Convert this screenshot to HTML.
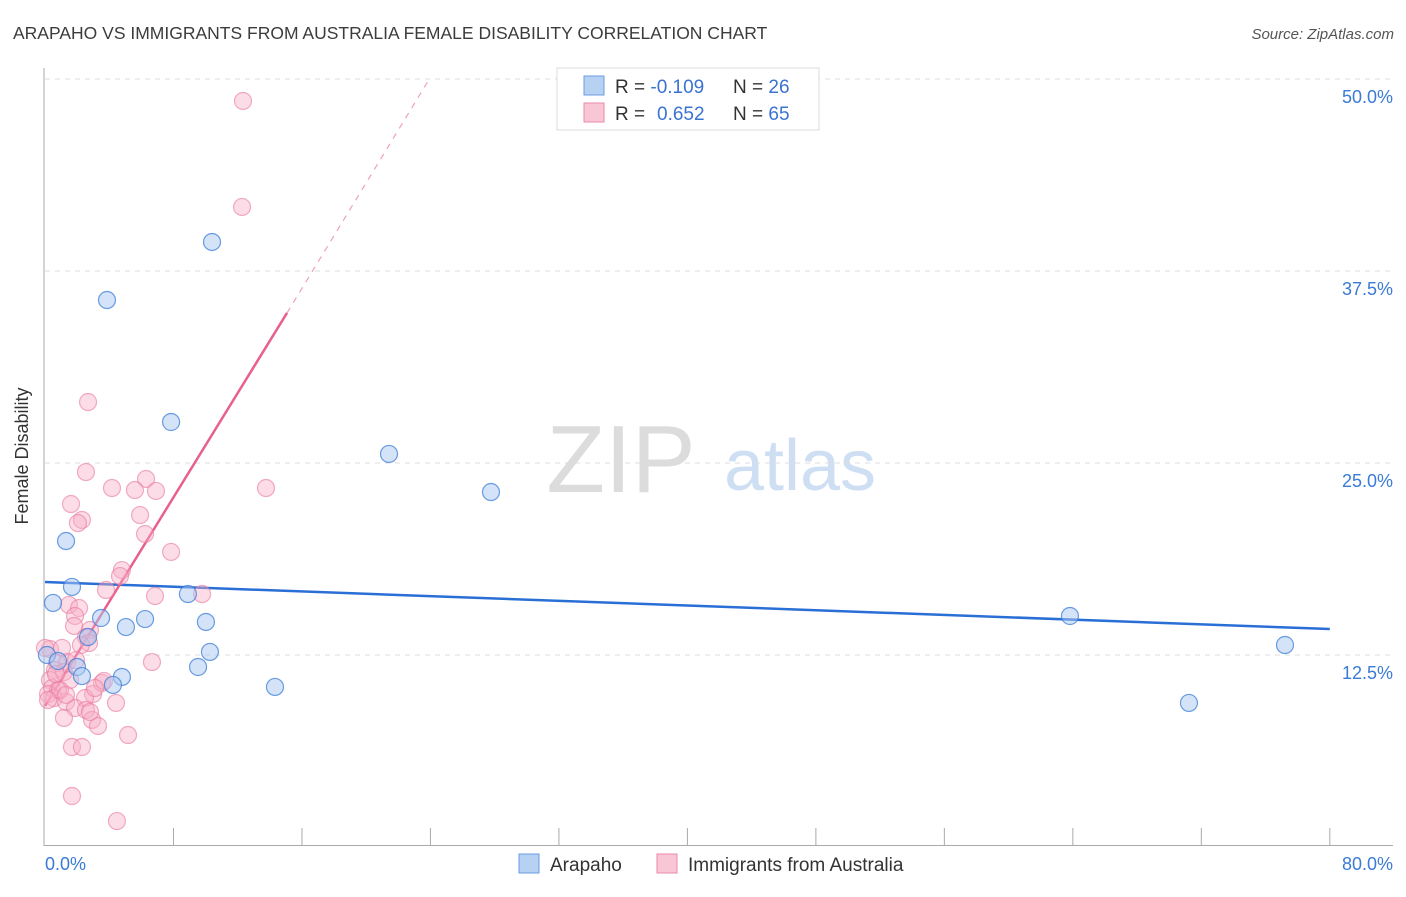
<!DOCTYPE html>
<html><head><meta charset="utf-8"><style>
body{margin:0;background:#fff;font-family:"Liberation Sans",sans-serif}
svg text{font-family:"Liberation Sans",sans-serif}
</style></head><body>
<svg id="chart" width="1406" height="892" xmlns="http://www.w3.org/2000/svg">
<text x="13" y="39" font-size="17.5" fill="#3c3c3c">ARAPAHO VS IMMIGRANTS FROM AUSTRALIA FEMALE DISABILITY CORRELATION CHART</text>
<text x="1394" y="39" font-size="15" fill="#555" font-style="italic" text-anchor="end">Source: ZipAtlas.com</text>
<text x="621" y="492" font-size="96" fill="#dcdcdc" font-family="Liberation Serif, serif" text-anchor="middle">ZIP</text>
<text x="800" y="490" font-size="72" fill="#cfdff3" text-anchor="middle">atlas</text>
<g id="grid"></g>
<g id="axes"></g>
<g id="trends"></g>
<g id="points"></g>
<text x="28" y="456" font-size="18" fill="#333" text-anchor="middle" transform="rotate(-90 28 456)">Female Disability</text>
<g>
<rect x="557" y="68" width="262" height="62" fill="#fff" stroke="#ddd"/>
<rect x="584" y="76" width="20" height="19" fill="#b7d1f3" stroke="#6b9be0"/>
<rect x="584" y="103" width="20" height="19" fill="#f9c6d5" stroke="#ea8aa8"/>
<text x="615" y="93" font-size="19" fill="#333">R = <tspan fill="#3a73d0">-0.109</tspan><tspan x="733">N = </tspan><tspan fill="#3a73d0">26</tspan></text>
<text x="615" y="120" font-size="19" fill="#333">R = <tspan x="657" fill="#3a73d0">0.652</tspan><tspan x="733">N = </tspan><tspan fill="#3a73d0">65</tspan></text>
</g>
<g>
<rect x="519" y="854" width="20" height="19" fill="#b7d1f3" stroke="#6b9be0"/>
<text x="550" y="871" font-size="19" fill="#333">Arapaho</text>
<rect x="657" y="854" width="20" height="19" fill="#f9c6d5" stroke="#ea8aa8"/>
<text x="688" y="871" font-size="19" fill="#333">Immigrants from Australia</text>
</g>
</svg>
<script>
const yTicks=[12.5,25,37.5,50];
const yTickLabels=["12.5%","25.0%","37.5%","50.0%"];
const xTickCount=10;
const blueX=[10.40,3.86,7.85,21.42,27.77,1.31,1.68,0.50,8.90,3.49,6.23,5.04,10.02,2.68,10.27,0.12,0.81,1.99,2.30,4.79,4.23,9.53,14.32,63.82,77.21,71.23];
const blueY=[39.39,35.61,27.67,25.59,23.11,19.92,16.93,15.89,16.47,14.91,14.84,14.32,14.65,13.67,12.70,12.50,12.11,11.72,11.13,11.07,10.55,11.72,10.42,15.04,13.15,9.38];
const pinkX=[12.33,12.27,2.68,2.55,6.29,4.17,5.60,6.91,13.76,1.62,5.92,2.30,2.05,6.23,7.85,4.79,4.67,3.80,6.85,9.78,1.49,2.12,1.87,1.81,2.80,2.55,2.74,2.24,6.66,0.31,1.06,0.75,1.37,0.62,1.18,1.56,0.31,0.44,0.81,0.19,0.56,1.31,2.99,2.49,3.55,3.67,4.42,1.87,2.55,1.18,2.93,3.30,5.17,1.68,2.30,1.68,4.48,0.00,0.93,0.19,0.68,2.80,1.31,1.93,3.11];
const pinkY=[48.57,41.67,28.97,24.41,23.96,23.37,23.24,23.18,23.37,22.33,21.61,21.29,21.09,20.38,19.21,18.03,17.64,16.73,16.34,16.47,15.76,15.56,15.04,14.39,14.13,13.67,13.28,13.15,12.04,12.89,12.96,11.98,12.04,11.52,11.39,10.87,10.87,10.35,10.22,9.96,9.70,9.44,9.96,9.70,10.68,10.81,9.38,9.05,8.92,8.40,8.27,7.88,7.29,6.51,6.51,3.32,1.69,12.96,10.22,9.57,11.26,8.79,9.90,12.17,10.35];
const blueTrend=[[0,17.25],[80,14.19]];
const pinkTrendSolid=[[0,9.18],[15.07,34.77]];
const pinkTrendDash=[[15.07,34.77],[23.97,50.07]];
const NS="http://www.w3.org/2000/svg";
const xs=v=>45+v*16.06, ys=v=>847-v*15.36;
function mk(tag,attrs,parent){const e=document.createElementNS(NS,tag);for(const k in attrs)e.setAttribute(k,attrs[k]);document.getElementById(parent).appendChild(e);return e;}
yTicks.forEach((t,i)=>{
 const l=mk('line',{x1:45,x2:1393,y1:ys(t),y2:ys(t),stroke:'#ddd','stroke-dasharray':'5,5'},'grid');
 
 
 const tx=mk('text',{x:1393,y:ys(t)+24,'font-size':18,fill:'#3a7bd5','text-anchor':'end'},'grid');
 tx.textContent=yTickLabels[i];
 
 
});
const ya=mk('line',{x1:44,x2:44,y1:68,y2:846,stroke:'#aaa'},'axes');


const xa=mk('line',{x1:44,x2:1393,y1:845.5,y2:845.5,stroke:'#aaa'},'axes');


for(let i=1;i<=xTickCount;i++){
 const t=mk('line',{x1:xs(i*8),x2:xs(i*8),y1:828,y2:845,stroke:'#aaa'},'axes');
 
 
}
const x0=mk('text',{x:45,y:870,'font-size':18,fill:'#3a7bd5'},'axes');x0.textContent='0.0%';


const x1=mk('text',{x:1393,y:870,'font-size':18,fill:'#3a7bd5','text-anchor':'end'},'axes');x1.textContent='80.0%';


function pts(X,Y,fill,stroke,name){X.forEach((x,i)=>{
 const c=mk('circle',{cx:xs(x),cy:ys(Y[i]),r:8.5,fill:fill,stroke:stroke,'stroke-width':1.2},'points');
 
 
});}
pts(pinkX,pinkY,'rgba(248,175,198,0.42)','rgba(232,120,156,0.6)','point-australia');
pts(blueX,blueY,'rgba(170,200,242,0.5)','rgba(60,125,215,0.75)','point-arapaho');
function line(p,stroke,w,dash,name){const l=mk('line',{x1:xs(p[0][0]),y1:ys(p[0][1]),x2:xs(p[1][0]),y2:ys(p[1][1]),stroke:stroke,'stroke-width':w},'trends');if(dash)l.setAttribute('stroke-dasharray',dash);
 
 }
line(blueTrend,'#2a6fd6',2.5,null,'trend-arapaho');
line(pinkTrendSolid,'#e8608e',2.5,null,'trend-australia');
line(pinkTrendDash,'#f0a0bb',1.2,'6,6','trend-australia-extended');
</script>
</body></html>
